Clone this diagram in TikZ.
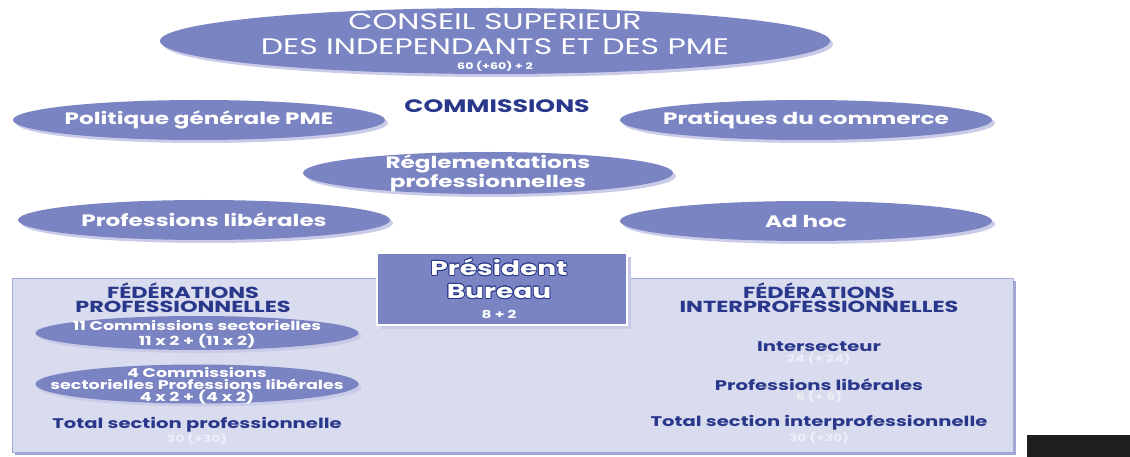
\documentclass[tikz,border=0pt]{standalone}
\usepackage{fontspec}
\setmainfont{Poppins}[FakeStretch=1.4]
\usepackage{contour}
\contourlength{0.8pt}
\usetikzlibrary{shapes.geometric,shadows}
\definecolor{ell}{HTML}{7B84C2}
\definecolor{shad}{HTML}{C9CBE8}
\definecolor{dblue}{HTML}{2A388C}
\definecolor{panel}{HTML}{D9DBEE}
\definecolor{panelb}{HTML}{A3A7D6}
\definecolor{faint}{HTML}{EEEFF8}
\definecolor{blk}{HTML}{1E1E1E}
\begin{document}
\begin{tikzpicture}[x=1pt,y=-1pt,
  ov/.style={ellipse, fill=ell, inner sep=0pt,
    general shadow={fill=shad, shadow xshift=3pt, shadow yshift=-3pt}},
  comm/.style={ov, minimum width=372pt, minimum height=40pt},
  commt/.style={text=white, align=center, inner sep=0pt, font=\bfseries\fontsize{16.5}{17.5}\selectfont},
  sub/.style={ov, minimum width=323pt},
  subt/.style={text=white, font=\bfseries\fontsize{12.5}{14.5}\selectfont, align=center, inner sep=0pt},
  num/.style={text=white, font=\bfseries\fontsize{9}{10}\selectfont, inner sep=0pt},
  fnum/.style={text=faint, font=\bfseries\fontsize{10}{11}\selectfont, inner sep=0pt},
  head/.style={text=dblue, font=\bfseries\fontsize{16}{14.5}\selectfont, align=center, inner sep=0pt},
  item/.style={text=dblue, font=\bfseries\fontsize{14}{15}\selectfont, inner sep=0pt}]
\useasboundingbox (0,0) rectangle (1130,457);
\fill[white] (0,0) rectangle (1130,457);

% top council
\node[ov, minimum width=670pt, minimum height=66pt] (csi) at (495,41) {};
\node[text=white, font=\fontsize{22.5}{25}\selectfont, align=center, inner sep=0pt] (csi-t) at (495,34) {CONSEIL SUPERIEUR\\DES INDEPENDANTS ET DES PME};
\node[num] (csi-n) at (495,66) {60 (+60) + 2};

% commissions
\node[text=dblue, font=\bfseries\fontsize{18}{20}\selectfont, inner sep=0pt] (comtitle) at (497,106) {COMMISSIONS};
\node[comm] (pol) at (199,120) {};
\node[commt] (pol-t) at (pol.center) {Politique générale PME};
\node[comm] (prat) at (806,120) {};
\node[commt] (prat-t) at (prat.center) {Pratiques du commerce};
\node[comm, minimum width=370pt, minimum height=42pt] (regl) at (488,173) {};
\node[commt] (regl-t) at (regl.center) {Réglementations\\professionnelles};
\node[comm] (plib) at (204,220) {};
\node[commt] (plib-t) at (plib.center) {Professions libérales};
\node[comm] (adhoc) at (806,221) {};
\node[commt] (adhoc-t) at (adhoc.center) {Ad hoc};

% panel
\node[rectangle, draw=panelb, fill=panel, line width=0.8pt, minimum width=1001pt, minimum height=174pt, inner sep=0pt,
  general shadow={fill=panelb, shadow xshift=3pt, shadow yshift=-3pt}] (panel) at (512.5,365) {};

% president
\node[rectangle, fill=ell, draw=white, line width=1.2pt, minimum width=250pt, minimum height=72pt, inner sep=0pt,
  general shadow={fill=shad, shadow xshift=4pt, shadow yshift=-4pt}] (pres) at (502,289) {};
\node[text=white, font=\bfseries\fontsize{20}{23}\selectfont, align=center, inner sep=0pt] (pres-t) at (499,279)
  {\contour{dblue}{Président}\\\contour{dblue}{Bureau}};
\node[num, font=\bfseries\fontsize{11}{12}\selectfont] (pres-n) at (499,314) {8 + 2};

% left column
\node[head] (fp) at (183,297.5) {FÉDÉRATIONS\\PROFESSIONNELLES};
\node[sub, minimum height=34pt] (cs11) at (197,333) {};
\node[subt] (cs11-t) at (197,334.5) {11 Commissions sectorielles\\11 x 2 + (11 x 2)};
\node[sub, minimum height=39pt] (cs4) at (197,384) {};
\node[subt, font=\bfseries\fontsize{12.5}{12.2}\selectfont] (cs4-t) at (197,385.5)
  {4 Commissions\\sectorielles Professions libérales\\4 x 2 + (4 x 2)};
\node[item] (totp) at (197,425) {Total section professionnelle};
\node[fnum] (totp-n) at (197,439) {30 (+30)};

% right column
\node[head] (fi) at (819,297.5) {FÉDÉRATIONS\\INTERPROFESSIONNELLES};
\node[item] (inter) at (819,347) {Intersecteur};
\node[fnum] (inter-n) at (819,359) {24 (+ 24)};
\node[item] (ipl) at (819,385) {Professions libérales};
\node[fnum] (ipl-n) at (819,397) {6 (+ 6)};
\node[item] (toti) at (819,423) {Total section interprofessionnelle};
\node[fnum] (toti-n) at (819,438) {30 (+30)};

% black block
\node[rectangle, fill=blk, minimum width=103pt, minimum height=22pt, inner sep=0pt] (blkbox) at (1078.5,446) {};
\end{tikzpicture}
\end{document}
